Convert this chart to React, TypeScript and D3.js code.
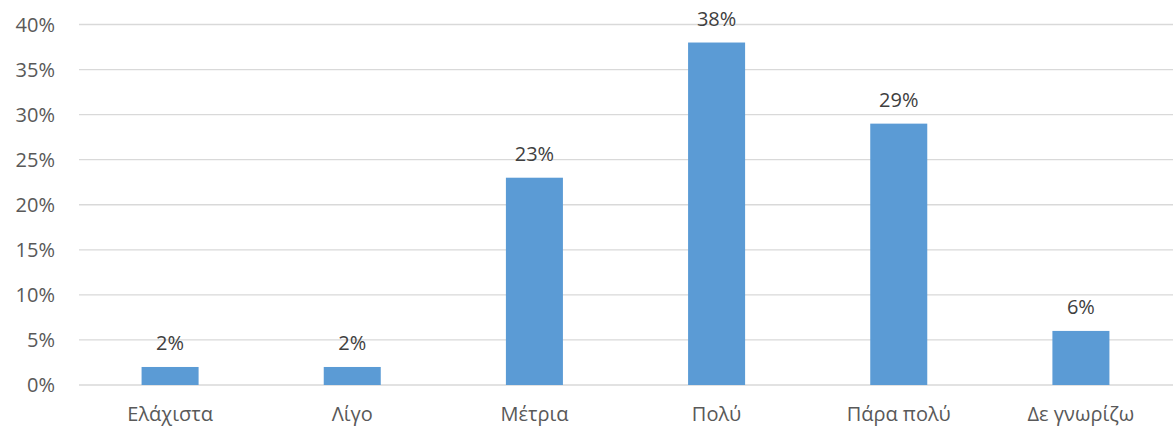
import { useEffect, useRef } from 'react'
import * as d3 from 'd3'

const categories = ['Ελάχιστα', 'Λίγο', 'Μέτρια', 'Πολύ', 'Πάρα πολύ', 'Δε γνωρίζω']
const values = [2, 2, 23, 38, 29, 6]
const yTicks = [0, 5, 10, 15, 20, 25, 30, 35, 40]

export default () => {
  const svgRef = useRef<SVGSVGElement>(null)

  useEffect(() => {
    const width = 1173,
      height = 431
    const margin = { top: 24.5, right: 1, bottom: 46, left: 79 }

    const svg = d3.select(svgRef.current).attr('width', width).attr('height', height)
    svg.selectAll('*').remove()

    const x = d3
      .scaleBand()
      .domain(categories)
      .range([margin.left, width - margin.right])
      .paddingInner(0.687)
      .paddingOuter(0.3435)
    const y = d3
      .scaleLinear()
      .domain([0, 40])
      .range([height - margin.bottom, margin.top])

    const font = '"Open Sans", "Noto Sans", sans-serif'

    // gridlines
    svg
      .append('g')
      .selectAll('line')
      .data(yTicks)
      .join('line')
      .attr('x1', margin.left)
      .attr('x2', width)
      .attr('y1', (d) => y(d))
      .attr('y2', (d) => y(d))
      .attr('stroke', '#d9d9d9')
      .attr('stroke-width', 1.3)

    // y tick labels
    svg
      .append('g')
      .selectAll('text')
      .data(yTicks)
      .join('text')
      .attr('x', 55)
      .attr('y', (d) => y(d))
      .attr('dy', '0.36em')
      .attr('text-anchor', 'end')
      .style('font-family', font)
      .style('font-size', '20px')
      .style('fill', '#595959')
      .text((d) => d + '%')

    // bars
    svg
      .append('g')
      .selectAll('rect')
      .data(values)
      .join('rect')
      .attr('x', (_, i) => x(categories[i]) as number)
      .attr('y', (d) => y(d))
      .attr('width', x.bandwidth())
      .attr('height', (d) => y(0) - y(d))
      .style('fill', '#5b9bd5')

    // value labels
    svg
      .append('g')
      .selectAll('text')
      .data(values)
      .join('text')
      .attr('x', (_, i) => (x(categories[i]) as number) + x.bandwidth() / 2)
      .attr('y', (d) => y(d) - 17)
      .attr('text-anchor', 'middle')
      .style('font-family', font)
      .style('font-size', '20px')
      .style('fill', '#404040')
      .text((d) => d + '%')

    // category labels
    svg
      .append('g')
      .selectAll('text')
      .data(categories)
      .join('text')
      .attr('x', (d) => (x(d) as number) + x.bandwidth() / 2)
      .attr('y', 421)
      .attr('text-anchor', 'middle')
      .style('font-family', font)
      .style('font-size', '20px')
      .style('fill', '#595959')
      .text((d) => d)
  }, [])

  return <svg ref={svgRef} style={{ position: 'absolute', left: 0, top: 0 }}></svg>
}
